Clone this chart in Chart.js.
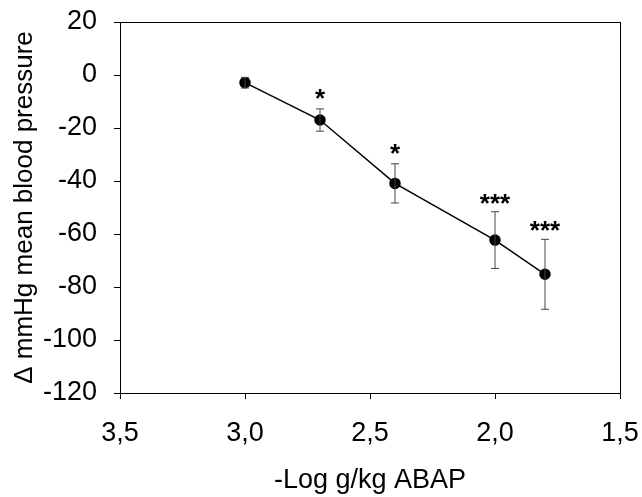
<!DOCTYPE html>
<html>
<head>
<meta charset="utf-8">
<script src="https://cdn.jsdelivr.net/npm/chart.js@4/dist/chart.umd.min.js"></script>
<style>
  html, body { margin: 0; padding: 0; background: #fff; }
  #wrap { width: 642px; height: 497px; }
</style>
</head>
<body>
<div id="wrap"><canvas id="chart"></canvas></div>
<script>
// -log g/kg ABAP dose vs change in mean blood pressure
const doseLog = [3.0, 2.7, 2.4, 2.0, 1.8];
const meanChange = [-2.9, -17.0, -40.9, -62.3, -75.2];
const sem = [2.0, 4.2, 7.4, 10.7, 13.2];
const significance = ["", "*", "*", "***", "***"];

const FONT = "'Liberation Sans', Arial, sans-serif";

// error bars + frame + asterisks
const extras = {
  id: "extras",
  afterDatasetsDraw(chart) {
    const { ctx, chartArea: a, scales: { x, y } } = chart;
    ctx.save();
    ctx.strokeStyle = "#000";
    ctx.lineWidth = 1;
    ctx.strokeRect(a.left + 0.5, a.top + 0.5, a.right - a.left, a.bottom - a.top);

    ctx.strokeStyle = "#444";
    doseLog.forEach((d, i) => {
      const px = x.getPixelForValue(d);
      const top = y.getPixelForValue(meanChange[i] + sem[i]);
      const bot = y.getPixelForValue(meanChange[i] - sem[i]);
      ctx.beginPath();
      ctx.moveTo(px, top); ctx.lineTo(px, bot);
      ctx.moveTo(px - 4, top); ctx.lineTo(px + 4, top);
      ctx.moveTo(px - 4, bot); ctx.lineTo(px + 4, bot);
      ctx.stroke();
    });

    ctx.fillStyle = "#000";
    ctx.font = "bold 26px " + FONT;
    ctx.textAlign = "center";
    ctx.textBaseline = "alphabetic";
    doseLog.forEach((d, i) => {
      if (!significance[i]) return;
      const px = x.getPixelForValue(d);
      const top = y.getPixelForValue(meanChange[i] + sem[i]);
      const lift = significance[i].length === 1 ? 2 : 0;
      ctx.fillText(significance[i], px, top - lift);
    });
    ctx.restore();
  },
};

new Chart(document.getElementById("chart"), {
  type: "line",
  data: {
    datasets: [{
      data: doseLog.map((d, i) => ({ x: d, y: meanChange[i] })),
      borderColor: "#000",
      borderWidth: 1.5,
      pointRadius: 5,
      pointBackgroundColor: "#000",
      pointBorderColor: "#000",
      tension: 0,
    }],
  },
  options: {
    responsive: true,
    maintainAspectRatio: false,
    animation: false,
    layout: { padding: { top: 22, right: 22, left: 0, bottom: 0 } },
    plugins: { legend: { display: false }, tooltip: { enabled: false } },
    scales: {
      x: {
        type: "linear",
        min: 1.5,
        max: 3.5,
        reverse: true,
        afterFit: (s) => { s.height = 104; s.paddingLeft = 0; s.paddingRight = 0; },
        border: { display: true, color: "#000", width: 1 },
        grid: { display: true, drawOnChartArea: false, drawTicks: true, tickLength: 6, color: "#000" },
        ticks: {
          stepSize: 0.5,
          color: "#000",
          padding: 18,
          font: { family: FONT, size: 27 },
          callback: (v) => v.toFixed(1).replace(".", ","),
        },
        title: {
          display: true,
          text: "-Log g/kg ABAP",
          color: "#000",
          font: { family: FONT, size: 27 },
          padding: { top: 0, bottom: 0 },
        },
      },
      y: {
        min: -120,
        max: 20,
        afterFit: (s) => { s.width = 120; s.paddingTop = 0; s.paddingBottom = 0; },
        border: { display: true, color: "#000", width: 1 },
        grid: { display: true, drawOnChartArea: false, drawTicks: true, tickLength: 6, color: "#000" },
        ticks: {
          stepSize: 20,
          color: "#000",
          padding: 17,
          font: { family: FONT, size: 27 },
        },
        title: {
          display: true,
          text: "Δ mmHg mean blood pressure",
          color: "#000",
          font: { family: FONT, size: 26 },
          padding: { top: 9, bottom: 0 },
        },
      },
    },
  },
  plugins: [extras],
});
</script>
</body>
</html>
